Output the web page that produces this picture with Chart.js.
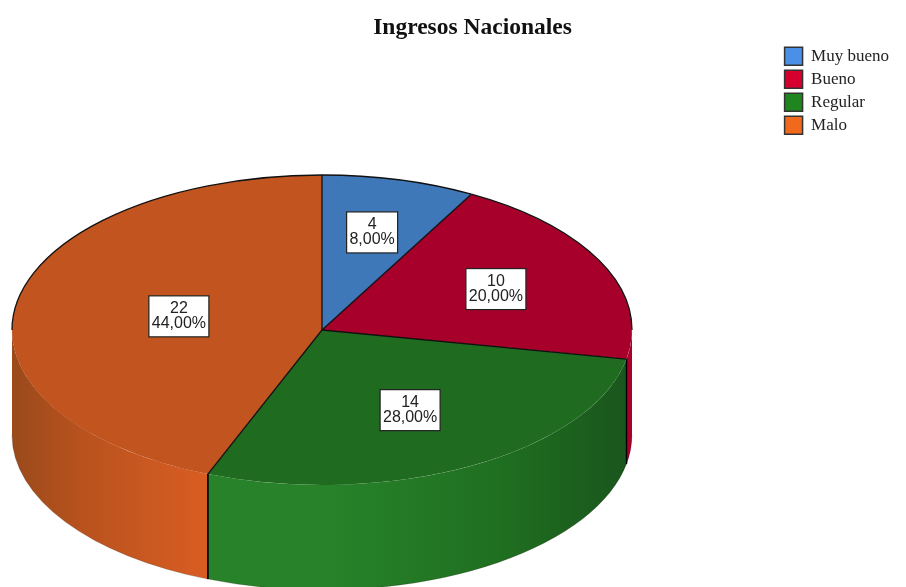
<!DOCTYPE html>
<html><head><meta charset="utf-8">
<style>html,body{margin:0;padding:0;background:#fff}#w{width:906px;height:587px;position:relative;overflow:hidden}</style>
<script src="https://cdn.jsdelivr.net/npm/chart.js@4/dist/chart.umd.js"></script>
</head><body><div id="w"><canvas id="c" width="906" height="587"></canvas></div>
<script>
const categories = ['Muy bueno','Bueno','Regular','Malo'];
const counts = [4,10,14,22];
const topColors = ['#3f78b8','#a6002b','#1f6b20','#c1541f'];
const legendColors = ['#4a90e6','#d6002f','#1f851f','#f0691c'];
const wallStops = [
  [['#3f78b8',1]],
  [['#a6002b',0],['#a6002b',1]],
  [['#27822a',0],['#27822a',0.3],['#1f6f20',0.7],['#1a561d',1]],
  [['#9a4a1b',0],['#b8521e',0.35],['#d95d23',1]]
];
const labelFactors = [0.65,0.62,0.59,0.47];
const CX=322, CY=330, RX=310, RY=155, DEPTH=105;
const total = counts.reduce((a,b)=>a+b,0);
function pct(v){return (v/total*100).toFixed(2).replace('.',',')+'%';}

const pie3d = {
  id:'pie3d',
  beforeDatasetsDraw(chart){
    const ctx=chart.ctx, arcs=chart.getDatasetMeta(0).data;
    arcs.forEach((a,i)=>{
      const s=Math.max(a.startAngle,0), e=Math.min(a.endAngle,Math.PI);
      if(e<=s) return;
      const x0=CX+RX*Math.cos(e), x1=CX+RX*Math.cos(s);
      const g=ctx.createLinearGradient(x0,0,x1,0);
      wallStops[i].forEach(st=>g.addColorStop(st[1],st[0]));
      ctx.beginPath();
      ctx.ellipse(CX,CY,RX,RY,0,s,e,false);
      ctx.ellipse(CX,CY+DEPTH,RX,RY,0,e,s,true);
      ctx.closePath();
      ctx.fillStyle=g; ctx.fill();
      ctx.strokeStyle='rgba(20,10,0,.2)'; ctx.lineWidth=1;
      ctx.beginPath(); ctx.ellipse(CX,CY+DEPTH,RX,RY,0,s,e,false); ctx.stroke();
    });
    ctx.strokeStyle='#000'; ctx.lineWidth=1.2;
    arcs.forEach(a=>{
      [a.startAngle,a.endAngle].forEach(t=>{
        const n=((t%(2*Math.PI))+2*Math.PI)%(2*Math.PI);
        if(n>0 && n<Math.PI){
          const x=CX+RX*Math.cos(n), y=CY+RY*Math.sin(n);
          ctx.beginPath(); ctx.moveTo(x,y); ctx.lineTo(x,y+DEPTH); ctx.stroke();
        }
      });
    });
    const a0=arcs[0];
    ctx.save();
    ctx.translate(CX,CY); ctx.scale(RX/a0.outerRadius,RY/a0.outerRadius); ctx.translate(-a0.x,-a0.y);
  },
  afterDatasetsDraw(chart){
    const ctx=chart.ctx, arcs=chart.getDatasetMeta(0).data;
    ctx.restore();
    ctx.strokeStyle='#111'; ctx.lineWidth=1.3;
    arcs.forEach(a=>{
      ctx.beginPath();
      ctx.moveTo(CX+RX*Math.cos(a.startAngle),CY+RY*Math.sin(a.startAngle));
      ctx.lineTo(CX,CY);
      ctx.stroke();
      const s=Math.max(a.startAngle,Math.PI), e=a.endAngle;
      const s2=a.startAngle, e2=Math.min(a.endAngle,0);
      if(e>s){ctx.beginPath();ctx.ellipse(CX,CY,RX,RY,0,s,e);ctx.stroke();}
      if(e2>s2){ctx.beginPath();ctx.ellipse(CX,CY,RX,RY,0,s2,e2);ctx.stroke();}
    });
    ctx.font='16px "Liberation Sans"';
    ctx.textAlign='center'; ctx.textBaseline='middle';
    arcs.forEach((a,i)=>{
      const mid=(a.startAngle+a.endAngle)/2, f=labelFactors[i];
      const x=CX+RX*f*Math.cos(mid), y=CY+RY*f*Math.sin(mid);
      const l1=String(counts[i]), l2=pct(counts[i]);
      const w=Math.round(ctx.measureText(l2).width)+6, h=41;
      ctx.fillStyle='#fff'; ctx.fillRect(x-w/2,y-h/2,w,h);
      ctx.strokeStyle='#222'; ctx.lineWidth=1.2; ctx.strokeRect(x-w/2,y-h/2,w,h);
      ctx.fillStyle='#222';
      ctx.fillText(l1,x,y-7.5); ctx.fillText(l2,x,y+7.5);
    });
  }
};

new Chart(document.getElementById('c'),{
  type:'pie',
  data:{labels:categories,datasets:[{data:counts,backgroundColor:topColors,borderWidth:0,clip:false}]},
  options:{
    responsive:false,animation:false,
    layout:{padding:{left:46,right:7}},
    plugins:{
      title:{display:true,text:'Ingresos Nacionales',color:'#111',
        font:{family:'"Liberation Serif"',size:23.5,weight:'bold'},padding:{top:14,bottom:0}},
      legend:{display:true,position:'right',align:'start',fullSize:false,
        labels:{boxWidth:18,boxHeight:18,padding:5,color:'#222',font:{family:'"Liberation Serif"',size:17},
          generateLabels(){return categories.map((t,i)=>({text:t,fillStyle:legendColors[i],strokeStyle:'#333',lineWidth:1.5,index:i,fontColor:'#222'}));}}},
      tooltip:{enabled:false}
    }
  },
  plugins:[pie3d]
});
</script></body></html>
